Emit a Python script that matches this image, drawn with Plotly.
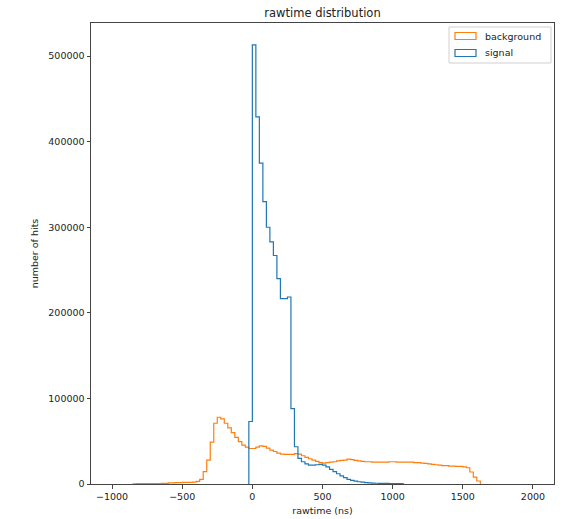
import plotly.graph_objects as go

# ---- data (histogram counts, 25 ns bins) ----
bin_width = 25
signal_first_edge = -25
signal_counts = [73000, 513000, 429000, 375000, 330000, 300000, 283000, 267000,
                 240000, 216500, 216500, 218500, 88000, 43500, 30000, 26000,
                 23500, 22000, 22000, 22500, 23000, 22000, 20000, 17000, 14500,
                 12000, 9500, 7500, 5500, 4300, 3300, 2600, 2100, 1700, 1400,
                 1100, 900, 800, 700, 700, 600, 600, 500, 400]
background_first_edge = -850
background_counts = [300, 400, 400, 500, 500, 500, 600, 600, 700, 800, 1200, 1400,
                     1500, 1600, 1800, 2000, 2000, 2300, 3000, 5500, 14500, 28000,
                     49000, 71000, 78000, 76000, 71000, 65500, 60000, 54500, 49500,
                     45500, 43000, 41500, 41500, 43000, 44500, 44000, 42000, 39500,
                     38000, 36000, 35000, 34500, 34500, 34500, 35500, 35000, 33000,
                     31000, 29500, 28000, 26500, 25000, 24500, 25000, 25500, 26000,
                     27000, 27500, 28000, 29000, 28500, 27500, 27000, 26500, 26000,
                     26000, 25500, 25500, 25500, 25500, 25500, 26000, 26000, 25500,
                     25500, 25500, 25500, 25500, 25000, 25000, 24500, 24000, 23500,
                     23000, 22500, 22000, 21500, 21500, 21000, 21000, 20500, 20500,
                     20000, 19000, 14000, 8000, 3500]
series_names = ["background", "signal"]
series_colors = ["#ff7f0e", "#1f77b4"]
x_ticks = [-1000, -500, 0, 500, 1000, 1500, 2000]
y_ticks = [0, 100000, 200000, 300000, 400000, 500000]
x_range = [-1150, 2150]
y_max = 538650


def step_path(first_edge, width, counts):
    edges = [first_edge + width * i for i in range(len(counts) + 1)]
    xs = [edges[0]] + edges
    ys = [0] + list(counts) + [0]
    return xs, ys


fig = go.Figure()
paths = [step_path(background_first_edge, bin_width, background_counts),
         step_path(signal_first_edge, bin_width, signal_counts)]
for (xs, ys), name, color in zip(paths, series_names, series_colors):
    fig.add_trace(go.Scatter(x=xs, y=ys, mode="lines", line_shape="hv",
                             line=dict(color=color, width=1.2),
                             name=name, showlegend=False))

# ---- legend drawn in matplotlib style ----
W, H = 564, 519
L, R, T, B = 91, 10, 23, 35
pw, ph = W - L - R, H - T - B


def px(x):
    return (x - L) / pw


def py(y):
    return (H - B - y) / ph


shapes = [dict(type="rect", xref="paper", yref="paper",
               x0=px(449), x1=px(551), y0=py(63), y1=py(27),
               line=dict(color="#d0d0d0", width=1), fillcolor="rgba(255,255,255,0.8)",
               layer="above")]
annotations = []
for i, (name, color) in enumerate(zip(series_names, series_colors)):
    cy = 36 + 17 * i
    shapes.append(dict(type="rect", xref="paper", yref="paper",
                       x0=px(455), x1=px(476), y0=py(cy + 3.5), y1=py(cy - 3.5),
                       line=dict(color=color, width=1.2), fillcolor="rgba(0,0,0,0)",
                       layer="above"))
    annotations.append(dict(text=name, xref="paper", yref="paper",
                            x=px(483), y=py(cy), xanchor="left", yanchor="middle",
                            showarrow=False, font=dict(size=9.5, color="#222")))

axis_common = dict(showgrid=False, zeroline=False, showline=True, mirror=True,
                   linecolor="#444", linewidth=1, ticks="outside", ticklen=3.5,
                   tickcolor="#444", tickfont=dict(size=9.5, color="#222"),
                   automargin=False)

fig.update_layout(
    width=W, height=H,
    margin=dict(l=L, r=R, t=T, b=B),
    paper_bgcolor="white", plot_bgcolor="white",
    font=dict(family="DejaVu Sans", color="#222"),
    title=dict(text="rawtime distribution", x=0.5, xref="paper",
               y=1 - 13 / H, yref="container", yanchor="middle",
               font=dict(size=11.5, color="#222"), automargin=False),
    xaxis=dict(range=x_range, tickvals=x_ticks, **axis_common,
               title=dict(text="rawtime (ns)", font=dict(size=9.5), standoff=6)),
    yaxis=dict(range=[0, y_max], tickvals=y_ticks, tickformat="d", **axis_common,
               title=dict(text="number of hits", font=dict(size=9.5), standoff=8)),
    shapes=shapes,
    annotations=annotations,
    showlegend=False,
)

fig.write_html("out.html",
               config={"displayModeBar": False},
               post_script="document.body.style.margin='0';"
                           "document.body.style.overflow='hidden';")
